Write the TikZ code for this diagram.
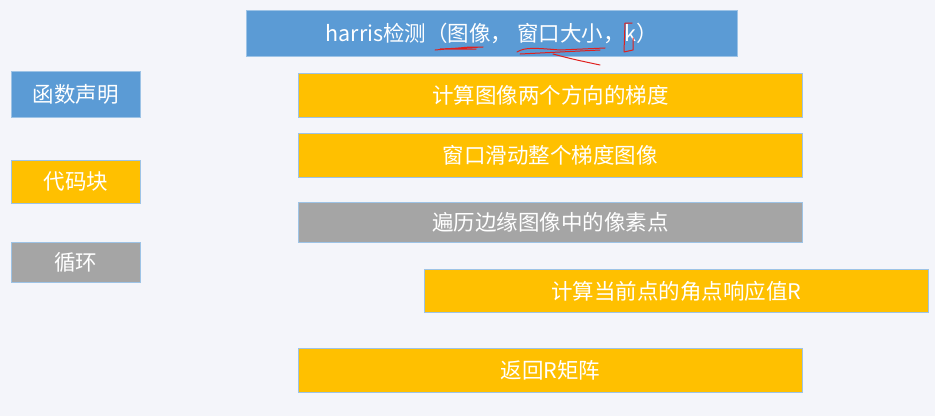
\documentclass[tikz,border=0pt]{standalone}
\usepackage{fontspec}
\setmainfont{Noto Sans CJK SC}
\usepackage{xcolor}
\usepackage{tikz}

\definecolor{funcblue}{HTML}{5B9BD5}
\definecolor{codeorange}{HTML}{FFC000}
\definecolor{loopgray}{HTML}{A5A5A5}
\definecolor{edgeblue}{HTML}{9DC3E6}
\definecolor{pagebg}{HTML}{F4F5FA}
\definecolor{penred}{HTML}{E0201E}

\begin{document}
\begin{tikzpicture}[
    x=1pt, y=-1pt,
    box/.style={rectangle, draw=edgeblue, line width=0.8pt, anchor=north west, inner sep=0pt, text=white, font=\fontsize{21.5}{25}\selectfont},
    funcbox/.style={box, fill=funcblue},
    codebox/.style={box, fill=codeorange},
    loopbox/.style={box, fill=loopgray},
    pen/.style={draw=penred, line width=1pt, line cap=round, line join=round},
]
\useasboundingbox (0,0) rectangle (935,416);
\fill[pagebg] (0,0) rectangle (935,416);

% legend
\node[funcbox, minimum width=129pt, minimum height=46pt] (legfunc) at (11,71) {函数声明};
\node[codebox, minimum width=129pt, minimum height=43pt] (legcode) at (11,160) {代码块};
\node[loopbox, minimum width=129pt, minimum height=40pt] (legloop) at (11,242) {循环};

% harris steps
\node[funcbox, minimum width=491pt, minimum height=46pt] (harris) at (246,10) {harris检测（图像， 窗口大小，k）};
\node[codebox, minimum width=504pt, minimum height=44pt] (grad) at (298,73) {计算图像两个方向的梯度};
\node[codebox, minimum width=504pt, minimum height=44pt] (slide) at (298,133) {窗口滑动整个梯度图像};
\node[loopbox, minimum width=504pt, minimum height=40pt] (pixels) at (298,202) {遍历边缘图像中的像素点};
\node[codebox, minimum width=504pt, minimum height=43pt] (response) at (424,269) {计算当前点的角点响应值R};
\node[codebox, minimum width=504pt, minimum height=44pt] (result) at (298,348) {返回R矩阵};

% red pen marks
\draw[pen] (435,50) -- (470,47) -- (483,47) -- (440,49) -- (476,49);
\draw[pen] (517,52) .. controls (525,47) and (535,48) .. (560,50) -- (605,48);
\draw[pen] (520,54) -- (600,50);
\draw[pen] (553,54) .. controls (572,59) .. (600,65);
\draw[pen] (632,23) -- (625,23) -- (624,52) -- (633,50) -- (633,38);

\end{tikzpicture}
\end{document}
